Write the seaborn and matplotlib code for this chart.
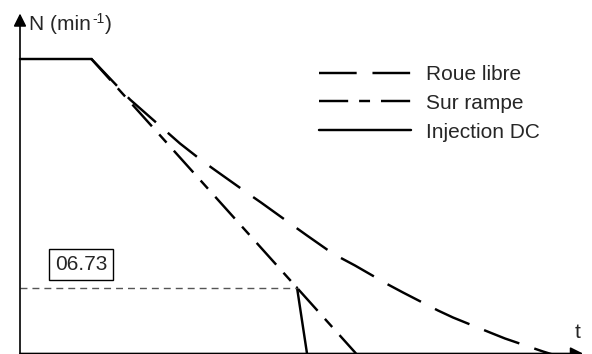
import numpy as np
import pandas as pd
import matplotlib
matplotlib.use("Agg")
import matplotlib.pyplot as plt
import seaborn as sns

# values (arbitrary units, no ticks on the original)
t_flat = [0, 71]
n_flat = [295, 295]

t_ramp = [71, 336]
n_ramp = [295, 0]

# DC injection: follows the ramp, then drops when speed reaches n_stop
t_dc = [277, 287]
n_dc = [66, 0]

t_free = [71, 110, 160, 183, 197, 228, 241, 273, 287, 307, 320, 335, 368, 383, 418, 433, 470, 485, 523, 555]
n_free = [295, 254, 210, 192, 182, 160, 151, 128, 118, 104, 96, 88, 69, 61, 43, 36, 21, 15, 2, -8]

n_stop = 66          # speed level where the DC injection starts
stop_label = "06.73"
labels = ["Roue libre", "Sur rampe", "Injection DC"]

sns.set_style("white")
plt.rcParams["font.family"] = ["Liberation Sans", "DejaVu Sans"]

fig = plt.figure(figsize=(5.92, 3.54), dpi=100)
ax = fig.add_axes([0, 0, 1, 1])
ax.set_xlim(-20, 572)
ax.set_ylim(-0.5, 353.5)
ax.axis("off")

lw = 1.75
sns.lineplot(x=t_flat, y=n_flat, ax=ax, color="black", linewidth=lw)
sns.lineplot(x=t_free, y=n_free, ax=ax, color="black", linewidth=lw,
             linestyle=(0, (15.5, 6.5)), label=labels[0])
sns.lineplot(x=t_ramp, y=n_ramp, ax=ax, color="black", linewidth=lw,
             linestyle=(0, (12, 4.5, 4.5, 4.5)), label=labels[1])
sns.lineplot(x=t_dc, y=n_dc, ax=ax, color="black", linewidth=lw,
             linestyle="-", label=labels[2])

# dashed reference level + boxed parameter
ax.plot([0, t_dc[0]], [n_stop, n_stop], color="#555555", lw=1.0,
        linestyle=(0, (5, 3.6)))
ax.text(61, 89, stop_label, fontsize=15, ha="center", va="center",
        bbox=dict(boxstyle="square,pad=0.3", fc="white", ec="black", lw=1))

# axes with arrows
arrow = dict(arrowstyle="-|>", lw=1.2, color="black",
             mutation_scale=19, shrinkA=0, shrinkB=0)
ax.annotate("", xy=(0, 340), xytext=(0, -1), arrowprops=arrow,
            annotation_clip=False)
ax.annotate("", xy=(563, 0), xytext=(0, 0), arrowprops=arrow,
            annotation_clip=False)

# "N (min-1)" with a short hyphen in the exponent
t1 = ax.text(9, 324, "N (min", fontsize=15, ha="left", va="baseline")
t2 = ax.annotate("-1", xy=(1.02, 0.78), xycoords=t1, fontsize=10,
                 ha="left", va="center")
ax.annotate(")", xy=(1.05, 0), xycoords=(t2, t1), fontsize=15,
            ha="left", va="bottom")
ax.text(558, 15, "t", fontsize=15, ha="center", va="baseline")

leg = ax.legend(loc="upper left", bbox_to_anchor=(319 / 592, 1 - 65 / 354),
                bbox_transform=fig.transFigure, frameon=False, fontsize=15,
                handlelength=4.4, handletextpad=0.75, labelspacing=0.47,
                borderpad=0, borderaxespad=0)

fig.savefig("out.png", dpi=100)
